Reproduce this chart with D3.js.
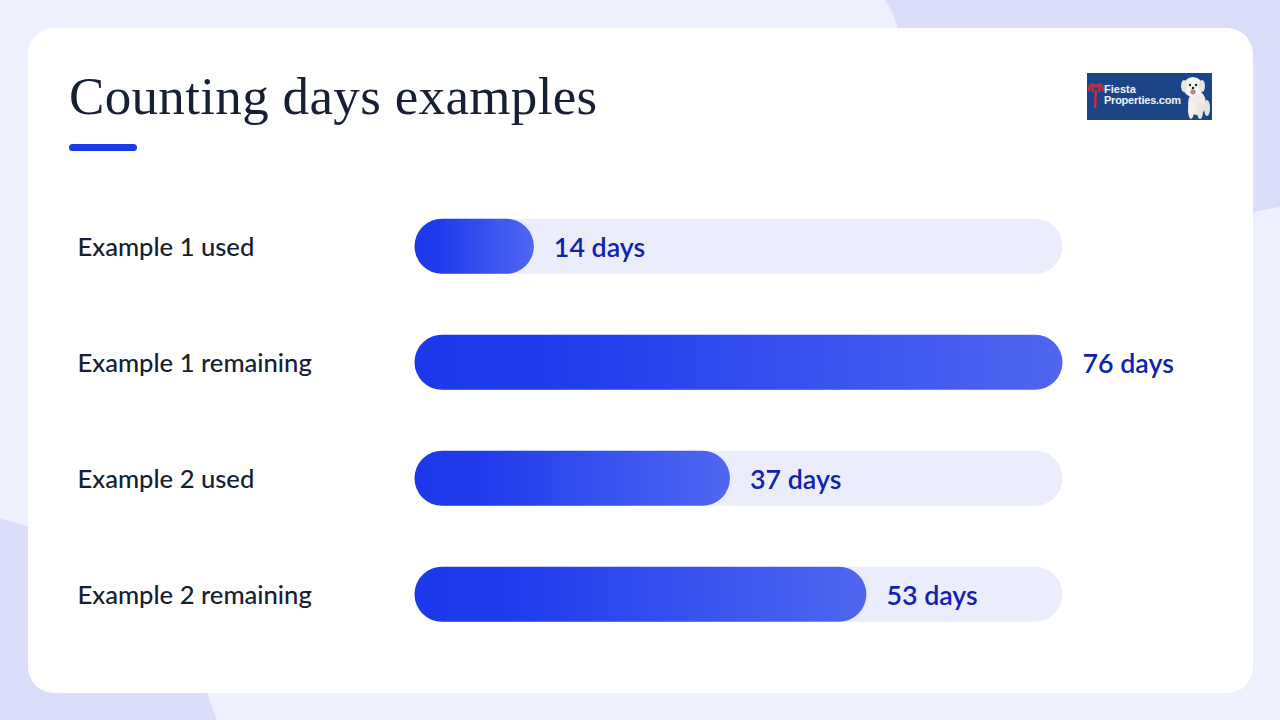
<!DOCTYPE html>
<html><head><meta charset="utf-8">
<script src="https://cdn.jsdelivr.net/npm/d3@7"></script>
<style>html,body{margin:0;padding:0;background:#eef0fd;overflow:hidden}svg{display:block}</style>
</head><body><svg id="c" width="1280" height="720"></svg>
<script>
const titleText = "Counting days examples";
const categories = ["Example 1 used","Example 1 remaining","Example 2 used","Example 2 remaining"];
const values = [14,76,37,53];
const maxDays = 76;

const svg = d3.select("#c");
const W=1280,H=720;
svg.append("rect").attr("width",W).attr("height",H).attr("fill","#eef0fd");
// background shapes
svg.append("path").attr("d","M885,0 L1280,0 L1280,207 L1240,214 L1240,60 L900,60 L898,28 Q893,12 885,0 Z").attr("fill","#dadefa");
svg.append("path").attr("d","M0,518 L60,537 L60,660 L195,660 L207,693 L217,720 L0,720 Z").attr("fill","#dadefa");
svg.append("rect").attr("x",28).attr("y",28).attr("width",1225).attr("height",665).attr("rx",26).attr("fill","#fff");

// title
svg.append("text").attr("x",69).attr("y",114).text(titleText)
  .attr("font-family","'Liberation Serif',serif").attr("font-size",53).attr("letter-spacing",0.34).attr("fill","#172033");
svg.append("rect").attr("x",69).attr("y",144).attr("width",68).attr("height",7).attr("rx",3.5).attr("fill","#1a3be8");

// gradient
const defs = svg.append("defs");
const g = defs.append("linearGradient").attr("id","bar").attr("x1",0).attr("x2",1).attr("y1",0).attr("y2",0);
g.append("stop").attr("offset","0%").attr("stop-color","#1c38ea");
g.append("stop").attr("offset","20%").attr("stop-color","#1f3bec");
g.append("stop").attr("offset","100%").attr("stop-color","#4f67f0");

const x = d3.scaleLinear().domain([0,maxDays]).range([414.5,1062.5]);
const y = d3.scaleBand().domain(categories).range([188.5,652]).paddingInner(0.525).paddingOuter(0.26);

const rows = svg.selectAll("g.row").data(categories.map((c,i)=>({c,v:values[i]}))).join("g").attr("class","row");
rows.append("rect").attr("x",x(0)).attr("y",d=>y(d.c)).attr("width",x(maxDays)-x(0)).attr("height",y.bandwidth()).attr("rx",y.bandwidth()/2).attr("fill","#ebedfc");
rows.append("rect").attr("x",x(0)).attr("y",d=>y(d.c)).attr("width",d=>x(d.v)-x(0)).attr("height",y.bandwidth()).attr("rx",y.bandwidth()/2).attr("fill","url(#bar)");
rows.append("text").attr("x",77.5).attr("y",d=>y(d.c)+y.bandwidth()/2+9.5).text(d=>d.c)
  .attr("font-family","Lato,sans-serif").attr("font-weight",500).attr("font-size",25.6).attr("fill","#172033");
rows.append("text").attr("x",d=>x(d.v)+20).attr("y",d=>y(d.c)+y.bandwidth()/2+10.5).text(d=>d.v+" days")
  .attr("font-family","Lato,sans-serif").attr("font-weight",600).attr("font-size",26.8).attr("fill","#1023ad");

// logo
const logo = svg.append("g").attr("transform","translate(1087,73)");
logo.append("rect").attr("width",125).attr("height",47).attr("fill","#1c4587");
logo.append("path").attr("d","M8,35 L9,17 M9,14 C5,9 2,12 2,18 M9,14 C6,10 5,15 6,19 M9,14 C13,9 16,12 16,18 M9,14 C12,10 13,15 12,19")
  .attr("stroke","#c4303f").attr("stroke-width",2.4).attr("fill","none");
logo.append("text").attr("x",17).attr("y",19.5).text("Fiesta").attr("font-family","'Liberation Sans',sans-serif").attr("font-weight",700).attr("font-size",11).attr("fill","#f2f4fa");
logo.append("text").attr("x",17).attr("y",31).text("Properties.com").attr("font-family","'Liberation Sans',sans-serif").attr("font-weight",700).attr("font-size",11).attr("textLength",77).attr("fill","#f2f4fa");
const dogFur = [[110,30,9,12,"#efece8"],[104,37,3,9,"#f4f2ee"],[113,38,3,8,"#e9e6e1"],[120,35,3,8,"#e6e2dc"],[106,14,10,10,"#f7f5f2"],[97,13,3,6,"#e8e4de"],[115,13,3,6,"#e8e4de"]];
logo.selectAll("ellipse.fur").data(dogFur).join("ellipse").attr("class","fur").attr("cx",d=>d[0]).attr("cy",d=>d[1]).attr("rx",d=>d[2]).attr("ry",d=>d[3]).attr("fill",d=>d[4]);
logo.append("circle").attr("cx",103).attr("cy",12).attr("r",1.2).attr("fill","#222");
logo.append("circle").attr("cx",109).attr("cy",12).attr("r",1.2).attr("fill","#222");
logo.append("circle").attr("cx",106).attr("cy",15).attr("r",1.3).attr("fill","#222");
logo.append("ellipse").attr("cx",106).attr("cy",19).attr("rx",2.6).attr("ry",2.4).attr("fill","#c77a80");
</script></body></html>
